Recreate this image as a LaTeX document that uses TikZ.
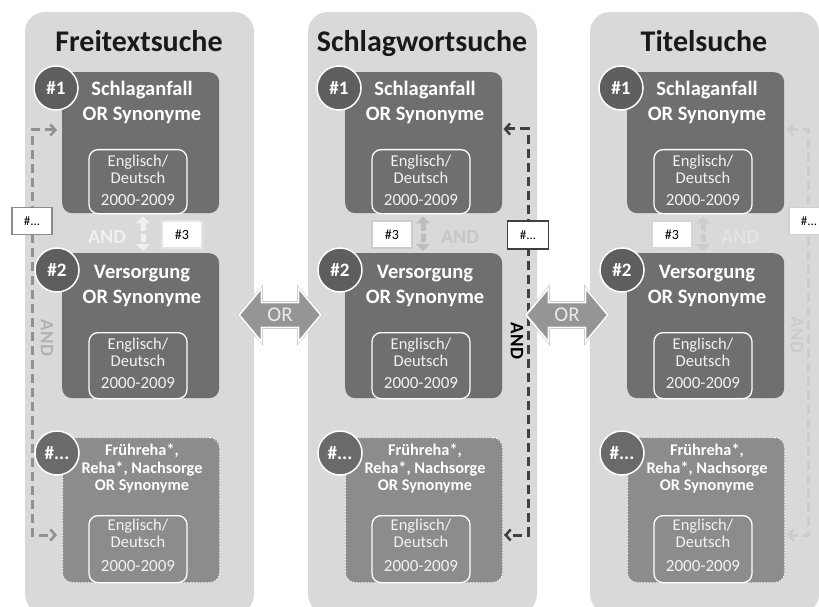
\documentclass[tikz,border=0pt]{standalone}
\usepackage{fontspec}
\setmainfont{Carlito}
\usetikzlibrary{shapes.arrows,arrows.meta,calc}
\definecolor{panelbg}{HTML}{D9D9D9}
\definecolor{boxdark}{HTML}{6F6F6F}
\definecolor{boxlight}{HTML}{8C8C8C}
\definecolor{circdark}{HTML}{5E5E5E}
\definecolor{circlight}{HTML}{6A6A6A}
\definecolor{orfill}{HTML}{959595}
\definecolor{orrim}{HTML}{B4B4B4}
\tikzset{
  panelbox/.style={fill=panelbg, draw=none, rounded corners=20pt},
  termbox/.style={fill=boxdark, draw=none, rounded corners=10pt, anchor=north west, inner sep=0pt, minimum width=157pt},
  termboxdot/.style={fill=boxlight, draw=white, dotted, line width=1pt, rounded corners=10pt, anchor=north west, inner sep=0pt, minimum width=157pt},
  numcirc/.style={circle, fill=circdark, draw=white, line width=1.5pt, minimum size=44pt, inner sep=0pt, text=white, font=\fontsize{19}{19}\selectfont\bfseries},
  titletext/.style={text=black!90, anchor=base, font=\fontsize{30}{32}\selectfont\bfseries},
  headtext/.style={text=white, align=center, font=\fontsize{20.5}{25}\selectfont\bfseries},
  smallhead/.style={text=white, align=center, font=\fontsize{16.3}{17.5}\selectfont\bfseries},
  langbox/.style={draw=white, line width=1.3pt, rounded corners=9pt, anchor=north, inner sep=0pt, minimum width=98pt},
  langtext/.style={text=white!95!black, align=center, font=\fontsize{16.5}{16.5}\selectfont},
  yeartext/.style={text=white!95!black, font=\fontsize{17}{17}\selectfont},
  refbox/.style={fill=white, line width=1.6pt, minimum width=40pt, minimum height=27pt, inner sep=0pt, font=\fontsize{14}{14}\selectfont},
  andtext/.style={font=\fontsize{20}{20}\selectfont\bfseries},
  vandtext/.style={font=\fontsize{19}{19}\selectfont\bfseries, rotate=-90},
  andarrow/.style={line width=5pt, dash pattern=on 8pt off 3pt, {Triangle[length=7pt 0 0,width=14pt 0 0]}-{Triangle[length=7pt 0 0,width=14pt 0 0]}},
  dashln/.style={line width=3pt, dash pattern=on 9pt off 5pt, {Straight Barb[length=5pt 0 0,width=11pt 0 0,line width=2.5pt]}-{Straight Barb[length=5pt 0 0,width=11pt 0 0,line width=2.5pt]}},
  orarrow/.style={double arrow, double arrow head extend=8pt, double arrow tip angle=100, inner sep=0pt, minimum height=82pt, minimum width=54pt, fill=orfill, draw=orrim, double=white, double distance=1.6pt, text=white!92!black, font=\fontsize{21}{21}\selectfont}
}
\newcommand\commonpanel[3]{%
  \begin{scope}[xshift=#2]
    \path[panelbox] (0,12) rectangle (229,614);
    \node[titletext] (#1title) at (114,52) {#3};
    % box 1
    \node[termbox, minimum height=141pt] (#1b1) at (37,72) {};
    \node[numcirc] (#1c1) at (31,88) {\#1};
    \node[headtext] (#1t1) at (117,102.5) {Schlaganfall\\OR Synonyme};
    \node[langbox, minimum height=64pt] (#1l1) at (113,149) {};
    \node[langtext] (#1e1) at (113,169.5) {Englisch/\\Deutsch};
    \node[yeartext] (#1y1) at (113,200) {2000-2009};
    % box 2
    \node[termbox, minimum height=145pt] (#1b2) at (37,253) {};
    \node[numcirc] (#1c2) at (32,270) {\#2};
    \node[headtext] (#1t2) at (117,286) {Versorgung\\OR Synonyme};
    \node[langbox, minimum height=66pt] (#1l2) at (113,332) {};
    \node[langtext] (#1e2) at (113,352.5) {Englisch/\\Deutsch};
    \node[yeartext] (#1y2) at (113,383) {2000-2009};
    % box 3
    \node[termboxdot, minimum height=145pt] (#1b3) at (37,437) {};
    \node[numcirc, fill=circlight] (#1c3) at (32,453) {\#...};
    \node[smallhead] (#1t3) at (117,468.5) {Frühreha*,\\Reha*, Nachsorge\\OR Synonyme};
    \node[langbox, minimum height=67pt] (#1l3) at (113,515) {};
    \node[langtext] (#1e3) at (113,533.5) {Englisch/\\Deutsch};
    \node[yeartext] (#1y3) at (113,566) {2000-2009};
  \end{scope}}
\begin{document}
\begin{tikzpicture}[x=1pt,y=-1pt]
\useasboundingbox (0,0) rectangle (819,607);
\fill[white] (0,0) rectangle (819,607);
\commonpanel{p}{25pt}{Freitextsuche}
\commonpanel{q}{308pt}{Schlagwortsuche}
\commonpanel{r}{590pt}{Titelsuche}

% ---- panel 1 extras
\coordinate (pax) at (143,0);
\draw[andarrow, draw=white!94!black, fill=white!94!black] ([yshift=-3pt]pb1.south -| pax) -- ([yshift=2pt]pb2.north -| pax);
\node[refbox, draw=white!90!black] (pref) at (182,234.5) {\#3};
\node[andtext, text=white!94!black] (pand) at (107,237) {AND};
\coordinate (pd1) at (32,130);
\coordinate (pd2) at (32,535);
\draw[dashln, draw=black!43] ([xshift=-5pt]pb1.west |- pd1) -- (pd1) -- (pd2) -- ([xshift=-5pt]pb3.west |- pd2);
\node[refbox, draw=black!45, font=\fontsize{13}{13}\selectfont] (pdots) at (32,221) {\#...};
\node[vandtext, text=black!30] (pvand) at (47,338) {AND};

% ---- panel 2 extras
\coordinate (qax) at (423,0);
\draw[andarrow, draw=black!26, fill=black!26] ([yshift=-3pt]qb1.south -| qax) -- ([yshift=2pt]qb2.north -| qax);
\node[refbox, draw=black!20] (qref) at (392,234.5) {\#3};
\node[andtext, text=black!22] (qand) at (460,237) {AND};
\coordinate (qd1) at (528,129);
\coordinate (qd2) at (528,535);
\draw[dashln, draw=black!75] ([xshift=1pt]qb1.east |- qd1) -- (qd1) -- (qd2) -- ([xshift=1pt]qb3.east |- qd2);
\node[refbox, draw=black!75, minimum width=41pt, minimum height=28pt, font=\fontsize{13}{13}\selectfont] (qdots) at (528,235) {\#...};
\node[vandtext, text=black] (qvand) at (517,341) {AND};

% ---- panel 3 extras
\coordinate (rax) at (703,0);
\draw[andarrow, draw=black!20, fill=black!20] ([yshift=-3pt]rb1.south -| rax) -- ([yshift=2pt]rb2.north -| rax);
\node[refbox, draw=black!16] (rref) at (672,234.5) {\#3};
\node[andtext, text=black!11] (rand) at (740,237) {AND};
\coordinate (rd1) at (808,130);
\coordinate (rd2) at (808,535);
\draw[dashln, draw=black!20] ([xshift=2pt]rb1.east |- rd1) -- (rd1) -- (rd2) -- ([xshift=2pt]rb3.east |- rd2);
\node[refbox, draw=black!18, font=\fontsize{13}{13}\selectfont] (rdots) at (809,221) {\#...};
\node[vandtext, text=black!20] (rvand) at (797,335) {AND};

% ---- OR arrows
\node[orarrow] (or1) at (280,315) {OR};
\node[orarrow] (or2) at (567,315) {OR};
\end{tikzpicture}
\end{document}
